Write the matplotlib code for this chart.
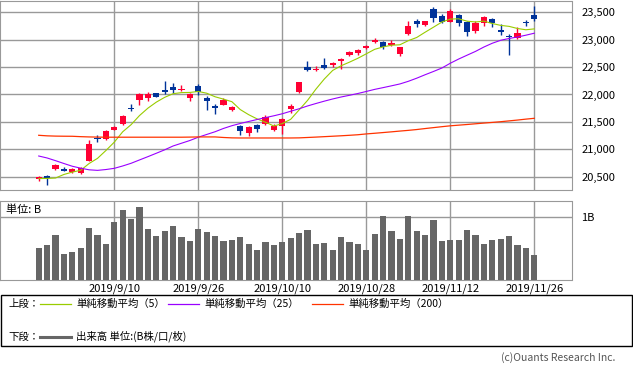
import numpy as np
import pandas as pd
import matplotlib
matplotlib.use("Agg")
import matplotlib.pyplot as plt
from matplotlib.lines import Line2D
from matplotlib.patches import Rectangle

plt.rcParams['font.family'] = ['Noto Sans CJK JP', 'DejaVu Sans']

# trading days (Tokyo), 2019/8/28 - 2019/11/26
holidays = ['2019-09-16', '2019-09-23', '2019-10-14', '2019-10-22', '2019-11-04']
days = pd.bdate_range('2019-08-28', '2019-11-26')
days = days[~days.isin(pd.to_datetime(holidays))]

label_dates = ['2019-09-10', '2019-09-26', '2019-10-10', '2019-10-28', '2019-11-12', '2019-11-26']
label_text = ['2019/9/10', '2019/9/26', '2019/10/10', '2019/10/28', '2019/11/12', '2019/11/26']

opens = [20456, 20504, 20632, 20644, 20577, 20565, 20784, 21197, 21179, 21349,
         21459, 21757, 21897, 21939, 22018, 22073, 22140, 22088, 21942, 22161,
         21942, 21796, 21814, 21723, 21431, 21304, 21450, 21468, 21346, 21431,
         21735, 22052, 22495, 22441, 22534, 22540, 22606, 22714, 22750, 22840,
         22954, 22966, 22900, 22732, 23104, 23350, 23272, 23554, 23440, 23331,
         23452, 23325, 23150, 23301, 23379, 23174, 23071, 23023, 23313, 23458]
highs = [20510, 20523, 20729, 20675, 20656, 20681, 21161, 21264, 21343, 21416,
         21617, 21830, 22018, 22043, 22030, 22255, 22213, 22179, 22027, 22197,
         21966, 21820, 21936, 21796, 21450, 21419, 21468, 21632, 21456, 21571,
         21820, 22234, 22617, 22526, 22660, 22594, 22666, 22792, 22834, 22900,
         23026, 22984, 23002, 22870, 23344, 23374, 23350, 23590, 23464, 23560,
         23464, 23343, 23349, 23428, 23391, 23295, 23107, 23228, 23355, 23615]
lows = [20420, 20346, 20620, 20596, 20565, 20553, 20778, 21124, 21167, 21343,
        21447, 21702, 21805, 21878, 21945, 22006, 22030, 22064, 21887, 21985,
        21723, 21650, 21802, 21705, 21267, 21249, 21310, 21450, 21334, 21285,
        21662, 22033, 22435, 22422, 22468, 22504, 22468, 22702, 22726, 22828,
        22936, 22828, 22888, 22696, 23086, 23236, 23242, 23314, 23313, 23319,
        23258, 23059, 23113, 23258, 23240, 23077, 22715, 23017, 23246, 23349]
closes = [20490, 20468, 20711, 20608, 20638, 20656, 21088, 21179, 21325, 21404,
          21599, 21739, 22006, 22000, 21957, 22036, 22073, 22106, 22015, 22045,
          21875, 21747, 21893, 21778, 21328, 21407, 21365, 21590, 21431, 21553,
          21796, 22222, 22453, 22459, 22480, 22582, 22648, 22780, 22816, 22882,
          22996, 22864, 22936, 22858, 23254, 23290, 23344, 23392, 23331, 23524,
          23313, 23132, 23313, 23415, 23301, 23144, 23041, 23119, 23301, 23379]

ma5 = [20465, 20468, 20475, 20540, 20583, 20616, 20740, 20834, 20977, 21130,
       21319, 21449, 21615, 21750, 21860, 21948, 22014, 22034, 22037, 22055,
       22023, 21958, 21915, 21868, 21724, 21631, 21554, 21494, 21424, 21469,
       21547, 21718, 21891, 22097, 22282, 22439, 22524, 22590, 22661, 22742,
       22824, 22868, 22899, 22907, 22982, 23040, 23136, 23228, 23322, 23376,
       23381, 23338, 23323, 23339, 23295, 23261, 23243, 23204, 23181, 23197]
ma25 = [20877, 20841, 20792, 20740, 20690, 20655, 20625, 20615, 20630, 20652,
        20695, 20744, 20805, 20865, 20927, 20990, 21060, 21110, 21160, 21220,
        21270, 21320, 21380, 21430, 21471, 21507, 21543, 21578, 21611, 21648,
        21694, 21739, 21790, 21835, 21878, 21918, 21954, 21985, 22018, 22055,
        22093, 22125, 22158, 22192, 22240, 22297, 22360, 22420, 22483, 22570,
        22647, 22717, 22786, 22866, 22935, 22989, 23022, 23049, 23082, 23118]
ma200 = [21255, 21245, 21240, 21238, 21237, 21230, 21225, 21222, 21220, 21220,
         21220, 21220, 21220, 21220, 21220, 21220, 21220, 21220, 21222, 21225,
         21225, 21225, 21215, 21208, 21206, 21206, 21206, 21206, 21206, 21206,
         21206, 21208, 21215, 21222, 21230, 21238, 21246, 21255, 21265, 21280,
         21292, 21305, 21318, 21332, 21345, 21360, 21378, 21395, 21412, 21428,
         21440, 21452, 21465, 21478, 21490, 21503, 21518, 21533, 21550, 21565]

# volume in billions of shares
volume = [0.513, 0.561, 0.720, 0.418, 0.450, 0.513, 0.831, 0.720, 0.577, 0.926,
          1.116, 0.974, 1.164, 0.815, 0.704, 0.783, 0.862, 0.688, 0.624, 0.815,
          0.767, 0.704, 0.624, 0.640, 0.688, 0.577, 0.481, 0.608, 0.561, 0.608,
          0.672, 0.751, 0.799, 0.577, 0.593, 0.481, 0.688, 0.608, 0.577, 0.481,
          0.735, 1.021, 0.783, 0.656, 1.021, 0.783, 0.720, 0.958, 0.624, 0.640,
          0.640, 0.799, 0.720, 0.577, 0.640, 0.656, 0.704, 0.561, 0.513, 0.402]

price_ticks = [20500, 21000, 21500, 22000, 22500, 23000, 23500]

UP = '#ff0033'
DOWN = '#003399'
GRID = '#999999'

W, H = 633, 372
fig = plt.figure(figsize=(W / 100, H / 100), dpi=100)

def box(l, t, r, b):
    return [l / W, 1 - b / H, (r - l) / W, (b - t) / H]

idx = np.arange(len(days))
tick_pos = [days.get_loc(pd.Timestamp(d)) for d in label_dates]
o = np.array(opens)
c = np.array(closes)
up = c >= o
col = np.where(up, UP, DOWN)

# upper panel: candles + moving averages
ax = fig.add_axes(box(0, 1, 571.5, 190.3))
ax.set_xlim(-4.607, 63.43)
ax.set_ylim(20251, 23706)
ax.set_yticks(price_ticks)
ax.set_yticklabels([f'{v:,}' for v in price_ticks])
ax.set_xticks(tick_pos)
ax.set_xticklabels([])
ax.yaxis.tick_right()
ax.tick_params(length=0, labelsize=8, pad=7)
ax.grid(True, color=GRID, lw=1.0)
ax.set_axisbelow(True)
for s in ax.spines.values():
    s.set_color(GRID)

ax.vlines(idx, lows, highs, colors=col, lw=1.0, zorder=2)
body = np.maximum(np.abs(c - o), 18)
ax.bar(idx, body, bottom=np.minimum(o, c), width=0.72, color=col, lw=0, zorder=3)

ax.plot(idx, ma5, color='#99cc00', lw=0.8, zorder=4)
ax.plot(idx, ma25, color='#9900ff', lw=0.8, zorder=4)
ax.plot(idx, ma200, color='#ff3300', lw=0.9, zorder=4)

# lower panel: volume
ax2 = fig.add_axes(box(0, 201.3, 571.5, 280.3))
ax2.set_xlim(-4.607, 63.43)
ax2.set_ylim(0, 1.254)
ax2.bar(idx, volume, width=0.72, color='#666666', lw=0, zorder=3)
ax2.set_yticks([1])
ax2.set_yticklabels(['1B'])
ax2.yaxis.tick_right()
ax2.set_xticks(tick_pos)
ax2.set_xticklabels(label_text)
ax2.tick_params(length=0, labelsize=8, pad=7)
ax2.tick_params(axis='x', pad=2)
ax2.grid(True, color=GRID, lw=1.0)
ax2.set_axisbelow(True)
for s in ax2.spines.values():
    s.set_color(GRID)
ax2.text(6 / 571.5, 1 - 8.5 / 79, '単位: B', transform=ax2.transAxes,
         fontsize=8, va='center', ha='left')

# legend box
def fx(x):
    return x / W

def fy(y):
    return 1 - y / H

fig.patches.append(Rectangle((fx(0.5), fy(346)), fx(631) , (346 - 295.3) / H,
                             transform=fig.transFigure, fill=False,
                             edgecolor='black', lw=1.0))
row1, row2 = 303.5, 336.5
fig.text(fx(8), fy(row1), '上段：', fontsize=7.5, va='center')
fig.text(fx(8), fy(row2), '下段：', fontsize=7.5, va='center')
legend_items = [(40, '#99cc00', '単純移動平均（5）'),
                (168, '#9900ff', '単純移動平均（25）'),
                (312, '#ff3300', '単純移動平均（200）')]
for x0, lc, lab in legend_items:
    fig.lines.append(Line2D([fx(x0), fx(x0 + 30.5)], [fy(row1), fy(row1)],
                            transform=fig.transFigure, color=lc, lw=0.9))
    fig.text(fx(x0 + 36), fy(row1), lab, fontsize=7.5, va='center')
fig.lines.append(Line2D([fx(40), fx(70.5)], [fy(row2), fy(row2)],
                        transform=fig.transFigure, color='#666666', lw=2.2))
fig.text(fx(76), fy(row2), '出来高 単位:(B株/口/枚)', fontsize=7.5, va='center')

fig.text(fx(615), fy(358), '(c)Ouants Research Inc.', fontsize=7.5,
         color='#555555', ha='right', va='center')

fig.savefig('out.png', dpi=100)
